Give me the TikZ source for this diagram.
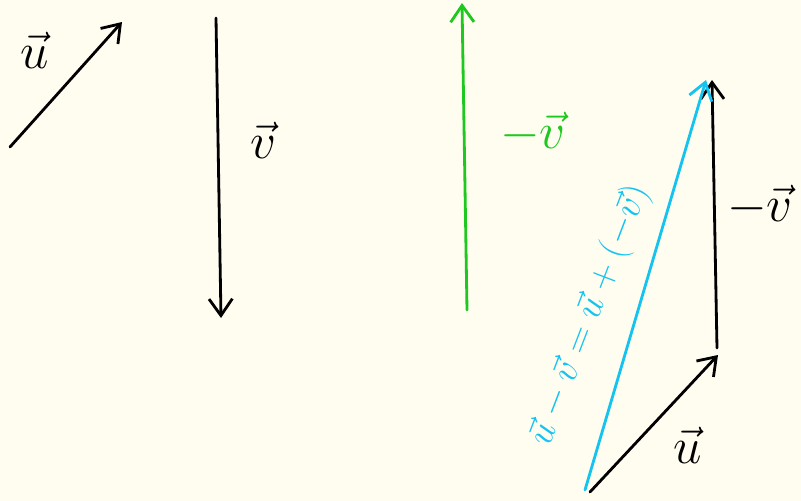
\documentclass[tikz,border=0pt]{standalone}
\usepackage{amsmath}
\usepackage{tikz}
\usetikzlibrary{arrows.meta,calc}
\definecolor{paper}{RGB}{255,253,240}
\definecolor{vgreen}{RGB}{30,200,30}
\definecolor{vcyan}{RGB}{20,195,240}

\begin{document}
\begin{tikzpicture}[
    x=0.03cm, y=-0.03cm,
    vec/.style={line width=2.4pt, line cap=round, -{Straight Barb[length=5mm,width=7mm,line width=2.4pt]}},
    lbl/.style={inner sep=0pt, font=\Huge, scale=1.75, transform shape},
    sumlbl/.style={inner sep=0pt, font=\Huge, scale=1.3, transform shape, text=vcyan}
]
    \fill[paper] (0,0) rectangle (801,501);
    \useasboundingbox (0,0) rectangle (801,501);

    % single vectors
    \coordinate (uA) at (10,147);
    \coordinate (uB) at (122,22);
    \coordinate (vA) at (216,18);
    \coordinate (vB) at (221,318);
    \coordinate (mvA) at (467,310);
    \coordinate (mvB) at (462,3);

    % triangle
    \coordinate (tuA) at (590,492);
    \coordinate (tuB) at (718,355);
    \coordinate (tvA) at (717,348);
    \coordinate (tvB) at (712,80);
    \coordinate (sA) at (585,490);
    \coordinate (sB) at (706,80);

    \draw[vec] (uA) -- (uB);
    \draw[vec] (vA) -- (vB);
    \draw[vec, vgreen] (mvA) -- (mvB);
    \draw[vec] (tuA) -- (tuB);
    \draw[vec] (tvA) -- (tvB);
    \draw[vec, vcyan] (sA) -- (sB);

    \node[lbl] (ulbl) at (35,50) {$\vec{u}$};
    \node[lbl] (vlbl) at (263,140) {$\vec{v}$};
    \node[lbl, text=vgreen] (mvlbl) at (533,132) {$-\vec{v}$};
    \node[lbl] (tvlbl) at (760,205) {$-\vec{v}$};
    \node[lbl] (tulbl) at (688,445) {$\vec{u}$};
    \node[sumlbl, rotate=69] (sumlbl) at (590,315) {$\vec{u}-\vec{v}=\vec{u}+(-\vec{v})$};
\end{tikzpicture}
\end{document}
